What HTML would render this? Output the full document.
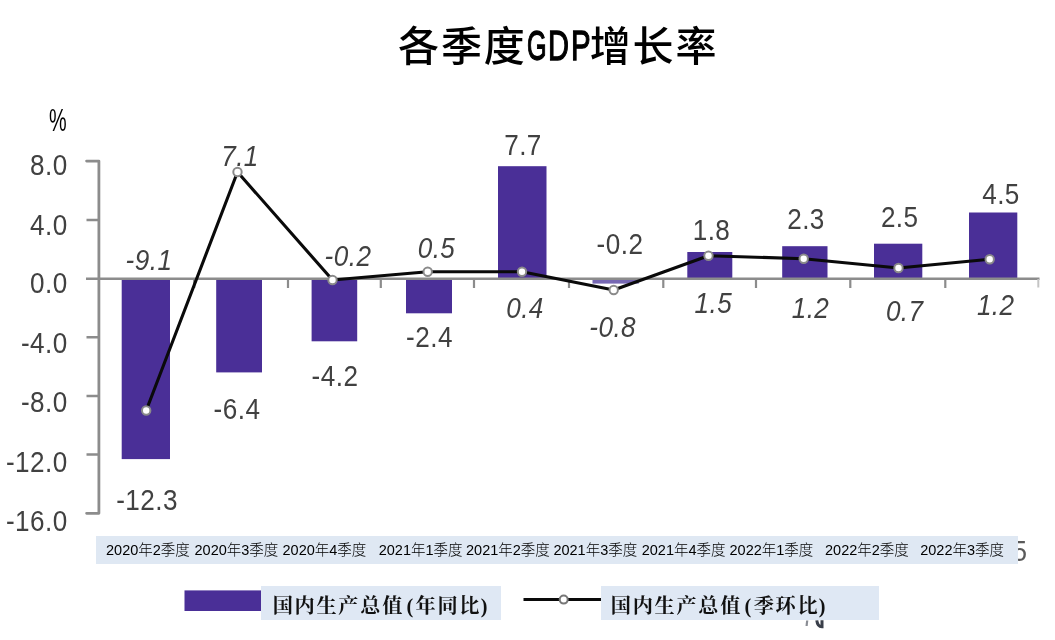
<!DOCTYPE html>
<html lang="zh-CN">
<head>
<meta charset="utf-8">
<title>各季度GDP增长率</title>
<style>
html,body{margin:0;padding:0;background:#fff;}
body{width:1055px;height:640px;position:relative;overflow:hidden;font-family:"Liberation Sans","Noto Sans CJK SC",sans-serif;}
#title{position:absolute;left:398px;top:11px;height:64px;line-height:64px;font-size:41px;letter-spacing:1.9px;color:#000;white-space:nowrap;font-family:"Noto Sans CJK SC","Liberation Sans",sans-serif;font-weight:500;}
#title .lat{display:inline-block;width:63px;height:64px;vertical-align:top;position:relative;letter-spacing:0;}
#title .lat b{position:absolute;top:3px;font-weight:400;font-family:"Liberation Sans",sans-serif;font-size:42px;line-height:64px;transform-origin:0 50%;-webkit-text-stroke:1.3px #000;}
#pct{position:absolute;left:48.5px;top:103px;font-size:31px;line-height:36px;color:#000;transform-origin:0 50%;transform:scaleX(0.64);font-family:"Liberation Sans",sans-serif;}
svg{position:absolute;left:0;top:0;}
.v{font-family:"Liberation Sans",sans-serif;font-size:29px;letter-spacing:0.5px;fill:#414141;}
.i{font-style:italic;}
#band{position:absolute;left:96px;top:536px;width:922px;height:28px;background:#dfe8f3;}
#band span{position:absolute;top:0;line-height:29px;font-size:14.5px;font-weight:300;color:#000;white-space:nowrap;font-family:"Liberation Sans","Noto Sans CJK SC",sans-serif;}
.lg{position:absolute;top:586px;height:31.5px;padding-top:2.5px;background:#dfe8f4;line-height:34px;font-size:20.2px;font-weight:700;color:#111;font-family:"Liberation Serif","Noto Serif CJK SC",serif;white-space:nowrap;letter-spacing:1.7px;}
.lg i{font-style:normal;display:inline-block;width:11.5px;text-align:center;letter-spacing:0;}
.lg i.r{width:8px;text-align:left;margin-left:-0.5px;}
</style>
</head>
<body>
<div id="title">各季度<span class="lat"><b style="left:0.3px;transform:scaleX(0.60)">G</b><b style="left:21.2px;transform:scaleX(0.69)">D</b><b style="left:44.3px;transform:scaleX(0.70)">P</b></span>增长率</div>
<div id="pct">%</div>
<svg width="1055" height="640" viewBox="0 0 1055 640">
 <g id="bars" fill="#4a2f97">
  <rect x="121.7" y="279" width="48.3" height="180.1"/>
  <rect x="216.2" y="279" width="45.8" height="93.4"/>
  <rect x="311.6" y="279" width="45.6" height="62.3"/>
  <rect x="406" y="279" width="46" height="34.3"/>
  <rect x="498" y="166.2" width="48.5" height="113"/>
  <rect x="592.5" y="279" width="46.3" height="4.6" fill="#7667b3"/>
  <rect x="687.3" y="252" width="45" height="27.5"/>
  <rect x="782.2" y="246.2" width="45.3" height="33"/>
  <rect x="874" y="243.7" width="48.3" height="36"/>
  <rect x="969" y="212.5" width="48.3" height="67"/>
 </g>
 <g id="axes" stroke="#8c8c8c" stroke-width="2.6" fill="none">
  <path d="M86.6 161.1 H98.9 V513.3 H86.6" stroke-linejoin="round" stroke-linecap="round" stroke-width="2.8"/>
  <path d="M86 278.7 H1039.5"/>
  <path d="M86.5 220 H99 M86.5 337.3 H99 M86.5 396 H99 M86.5 454.5 H99"/>
  <path d="M194.2 279 v9 M288 279 v9 M380.8 279 v9 M474 279 v9 M569 279 v9 M663.3 279 v9 M756 279 v9 M850.3 279 v9 M945.3 279 v9" stroke-width="2.2"/>
  <path d="M1038.3 279 v8.5" stroke-width="2" stroke="#c4c4c4"/>
 </g>
 <polyline fill="none" stroke="#0a0a0a" stroke-width="3.1" stroke-linejoin="round" points="146.2,410.5 237.5,172 332.5,280 427.7,271.7 522,271.7 613.7,290 708.5,255.7 803.7,258.7 898.5,268 989.7,259.2"/>
 <g id="marks" fill="#fff" stroke="#8a8a8a" stroke-width="2">
  <circle cx="146.2" cy="410.5" r="4.2"/><circle cx="237.5" cy="172" r="4.2"/><circle cx="332.5" cy="280" r="4.2"/>
  <circle cx="427.7" cy="271.7" r="4.2"/><circle cx="522" cy="271.7" r="4.2"/><circle cx="613.7" cy="290" r="4.2"/>
  <circle cx="708.5" cy="255.7" r="4.2"/><circle cx="803.7" cy="258.7" r="4.2"/><circle cx="898.5" cy="268" r="4.2"/>
  <circle cx="989.7" cy="259.2" r="4.2"/>
 </g>
 <g class="v" text-anchor="end" transform="translate(1.2,-0.4)">
  <text transform="translate(66.5,174.9) scale(0.9,1)">8.0</text>
  <text transform="translate(66.5,234.9) scale(0.9,1)">4.0</text>
  <text transform="translate(66.5,293.4) scale(0.9,1)">0.0</text>
  <text transform="translate(66.5,353.4) scale(0.9,1)">-4.0</text>
  <text transform="translate(66.5,411.9) scale(0.9,1)">-8.0</text>
  <text transform="translate(66.5,471.9) scale(0.9,1)">-12.0</text>
  <text transform="translate(66.5,531.4) scale(0.9,1)">-16.0</text>
 </g>
 <g class="v" text-anchor="middle" transform="translate(0,-0.6)">
  <text transform="translate(147.0,510.4) scale(0.9,1)">-12.3</text>
  <text transform="translate(237.0,419.4) scale(0.9,1)">-6.4</text>
  <text transform="translate(335.0,386.4) scale(0.9,1)">-4.2</text>
  <text transform="translate(429.5,347.2) scale(0.9,1)">-2.4</text>
  <text transform="translate(523.0,155.9) scale(0.9,1)">7.7</text>
  <text transform="translate(620.0,254.6) scale(0.9,1)">-0.2</text>
  <text transform="translate(711.5,240.4) scale(0.9,1)">1.8</text>
  <text transform="translate(806.0,229.6) scale(0.9,1)">2.3</text>
  <text transform="translate(899.7,227.1) scale(0.9,1)">2.5</text>
  <text transform="translate(1001.0,204.6) scale(0.9,1)">4.5</text>
 </g>
 <g class="v i" text-anchor="middle" transform="translate(0,-0.6)">
  <text transform="translate(149.0,270.4) scale(0.9,1)">-9.1</text>
  <text transform="translate(240.0,166.4) scale(0.9,1)">7.1</text>
  <text transform="translate(348.0,266.9) scale(0.9,1)">-0.2</text>
  <text transform="translate(436.5,258.9) scale(0.9,1)">0.5</text>
  <text transform="translate(525.0,318.4) scale(0.9,1)">0.4</text>
  <text transform="translate(612.7,337.1) scale(0.9,1)">-0.8</text>
  <text transform="translate(713.3,313.9) scale(0.9,1)">1.5</text>
  <text transform="translate(810.5,318.9) scale(0.9,1)">1.2</text>
  <text transform="translate(904.7,321.9) scale(0.9,1)">0.7</text>
  <text transform="translate(995.7,315.9) scale(0.9,1)">1.2</text>
 </g>
 <text class="v" transform="translate(1012.5,561) scale(0.9,1)" style="fill:#5a5a5a;stroke:none">5</text>
 <g id="legend">
  <rect x="184.5" y="590.4" width="76.5" height="20.6" fill="#4a2f97"/>
  <path d="M523.5 599.6 H601" stroke="#0a0a0a" stroke-width="3"/>
  <circle cx="563.7" cy="599.6" r="4" fill="#fff" stroke="#777" stroke-width="2"/>
  <path d="M807.2 620.5 l-0.6 5.5" stroke="#8a8d94" stroke-width="2.2" fill="none"/>
  <path d="M816.8 620.3 q0.6 6.2 5.2 6.4 v-6.4" stroke="#3a3f4a" stroke-width="3" fill="none"/>
 </g>
</svg>
<div id="band">
 <span style="left:10px">2020年2季度</span>
 <span style="left:98.5px">2020年3季度</span>
 <span style="left:186.5px">2020年4季度</span>
 <span style="left:282.7px">2021年1季度</span>
 <span style="left:370px">2021年2季度</span>
 <span style="left:457.4px">2021年3季度</span>
 <span style="left:545.7px">2021年4季度</span>
 <span style="left:633.5px">2022年1季度</span>
 <span style="left:729px">2022年2季度</span>
 <span style="left:824.2px">2022年3季度</span>
</div>
<div class="lg" style="left:260.7px;width:240px;"><span style="margin-left:12px">国内生产总值<i>(</i>年同比<i class="r">)</i></span></div>
<div class="lg" style="left:601px;width:278px;"><span style="margin-left:9.8px">国内生产总值<i>(</i>季环比<i class="r">)</i></span></div>
</body>
</html>
